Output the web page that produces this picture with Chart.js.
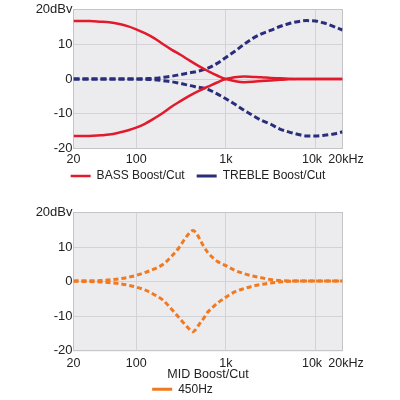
<!DOCTYPE html>
<html>
<head>
<meta charset="utf-8">
<script src="https://cdn.jsdelivr.net/npm/chart.js@4/dist/chart.umd.min.js"></script>
<style>
  html, body { margin: 0; padding: 0; background: #ffffff; overflow: hidden; width: 400px; height: 400px; }
  #c1 { position: absolute; left: 0; top: 0; }
  #c2 { position: absolute; left: 0; top: 200px; }
</style>
</head>
<body>
<canvas id="c1" width="400" height="200"></canvas>
<canvas id="c2" width="400" height="210"></canvas>
<script>
// ---- Data ----
const xTickValues = [20, 100, 1000, 10000, 20000];
const xTickLabels = ['20', '100', '1k', '10k  ', '  20kHz'];
const yTickValues = [-20, -10, 0, 10, 20];
const yTickLabels = ['-20', '-10', '0', '10', '20dBv'];

const freqTop = [20, 30, 40, 50, 65, 80, 100, 125, 160, 200, 250, 315, 400, 500, 630, 800, 1000, 1250, 1600, 2000, 2500, 3150, 4000, 5000, 6300, 8000, 10000, 12500, 16000, 20000];
const bassBoost = [16.7, 16.7, 16.5, 16.3, 15.8, 15.2, 14.3, 13.2, 11.7, 10.0, 8.4, 6.9, 5.2, 3.7, 2.3, 1.0, 0.1, 0.5, 0.7, 0.6, 0.5, 0.3, 0.2, 0.1, 0, 0, 0, 0, 0, 0];
const bassCut = [-16.4, -16.4, -16.2, -16.0, -15.4, -14.8, -14.0, -12.9, -11.3, -9.7, -7.9, -6.3, -4.7, -3.4, -2.2, -1.0, -0.1, -0.6, -0.9, -0.8, -0.6, -0.4, -0.2, -0.1, 0, 0, 0, 0, 0, 0];
const trebleBoost = [0, 0, 0, 0, 0, 0, 0, 0.1, 0.2, 0.5, 0.8, 1.3, 1.8, 2.3, 3.1, 4.5, 6.2, 7.9, 10.0, 11.7, 13.0, 14.0, 15.1, 15.9, 16.5, 16.8, 16.7, 16.1, 15.1, 14.1];
const trebleCut = [0, 0, 0, 0, 0, 0, 0, -0.1, -0.2, -0.5, -0.8, -1.3, -1.9, -2.4, -3.0, -4.3, -5.7, -7.2, -9.0, -10.5, -11.9, -13.0, -14.4, -15.2, -15.9, -16.4, -16.4, -16.2, -15.8, -15.2];

const freqMid = [20, 40, 60, 80, 100, 125, 160, 200, 250, 300, 350, 400, 430, 460, 500, 560, 630, 710, 800, 1000, 1250, 1600, 2000, 2500, 3150, 4000, 5000, 10000, 20000];
const midBoost = [0.2, 0.3, 0.7, 1.2, 1.8, 2.6, 3.7, 5.0, 7.4, 9.8, 12.4, 14.3, 14.8, 14.3, 12.8, 10.4, 8.4, 7.0, 5.9, 4.6, 3.3, 2.3, 1.6, 1.1, 0.6, 0.3, 0.2, 0.2, 0.2];
const midCut = [0.1, -0.1, -0.5, -1.0, -1.6, -2.4, -3.8, -5.4, -8.1, -10.4, -12.4, -14.0, -14.5, -13.9, -12.5, -10.8, -8.8, -7.5, -6.3, -4.5, -3.0, -2.0, -1.3, -0.8, -0.4, -0.1, 0.1, 0.2, 0.2];

const legendTop = ['BASS Boost/Cut', 'TREBLE Boost/Cut'];
const midTitle = 'MID Boost/Cut';
const legendMid = ['450Hz'];

// ---- Styling ----
const FONT = 'Liberation Sans, Arial, Helvetica, sans-serif';
const RED = '#e11b2c';
const NAVY = '#2a2d7c';
const ORANGE = '#f07a22';
const TXT = '#222222';

const pts = (xs, ys) => xs.map((x, i) => ({ x: x, y: ys[i] }));

const plotBg = {
  id: 'plotBg',
  beforeDraw(chart) {
    const a = chart.chartArea, ctx = chart.ctx;
    ctx.save();
    ctx.fillStyle = '#ececef';
    ctx.fillRect(a.left, a.top, a.right - a.left, a.bottom - a.top);
    ctx.restore();
  },
  beforeDatasetsDraw(chart) {
    const a = chart.chartArea, ctx = chart.ctx;
    ctx.save();
    ctx.strokeStyle = '#c4c4c8';
    ctx.lineWidth = 1;
    ctx.strokeRect(a.left, a.top, a.right - a.left, a.bottom - a.top);
    ctx.restore();
  }
};

function makeScales(xHeight, rightWidth, title, xPad) {
  return {
    x: {
      type: 'logarithmic',
      min: 20, max: 20000,
      afterBuildTicks: s => { s.ticks = xTickValues.map(v => ({ value: v })); },
      afterFit: s => { s.height = xHeight; s._computeLabelArea = () => undefined; },
      grid: { color: '#d3d3d7', lineWidth: 1, drawTicks: false },
      border: { display: false },
      ticks: {
        autoSkip: false, maxRotation: 0, padding: xPad,
        color: TXT, font: { family: FONT, size: 12.5 },
        callback: v => { const i = xTickValues.indexOf(v); return i >= 0 ? xTickLabels[i] : ''; }
      },
      title: title ? { display: true, text: title, color: TXT, padding: 0, font: { family: FONT, size: 12.5 } } : { display: false }
    },
    y: {
      type: 'linear',
      min: -20, max: 20,
      afterBuildTicks: s => { s.ticks = yTickValues.map(v => ({ value: v })); },
      afterFit: s => { s.width = 73.5; },
      grid: { color: '#d3d3d7', lineWidth: 1, drawTicks: false },
      border: { display: false },
      ticks: {
        padding: 1, color: TXT, font: { family: FONT, size: 13 },
        callback: v => { const i = yTickValues.indexOf(v); return i >= 0 ? yTickLabels[i] : ''; }
      }
    },
    yPad: {
      type: 'linear', position: 'right', display: true,
      afterFit: s => { s.width = rightWidth; },
      grid: { display: false, drawTicks: false },
      border: { display: false },
      ticks: { display: false }
    }
  };
}

function lineDs(label, data, color, dash, width) {
  return {
    label: label, data: data, borderColor: color, backgroundColor: color,
    borderWidth: width, borderDash: dash, pointRadius: 0, fill: false,
    cubicInterpolationMode: 'monotone', xAxisID: 'x', yAxisID: 'y'
  };
}

Chart.defaults.font.family = FONT;

new Chart(document.getElementById('c1'), {
  type: 'line',
  data: {
    datasets: [
      lineDs(legendTop[0], pts(freqTop, bassBoost), RED, [], 2.5),
      lineDs(legendTop[0], pts(freqTop, bassCut), RED, [], 2.5),
      lineDs(legendTop[1], pts(freqTop, trebleBoost), NAVY, [6, 3], 3),
      lineDs(legendTop[1], pts(freqTop, trebleCut), NAVY, [6, 3], 3)
    ]
  },
  options: {
    responsive: false, animation: false,
    layout: { padding: { left: 0, right: 4, top: 9.5, bottom: 8 } },
    scales: makeScales(9.5, 53.5, null, 4),
    plugins: {
      tooltip: { enabled: false },
      legend: {
        position: 'bottom',
        labels: {
          usePointStyle: true, pointStyle: 'line', pointStyleWidth: 20,
          padding: 12, color: TXT, font: { family: FONT, size: 12 },
          filter: item => item.datasetIndex === 0 || item.datasetIndex === 2
        }
      }
    }
  },
  plugins: [plotBg]
});

new Chart(document.getElementById('c2'), {
  type: 'line',
  data: {
    datasets: [
      lineDs(legendMid[0], pts(freqMid, midBoost), ORANGE, [5, 3], 3),
      lineDs(legendMid[0], pts(freqMid, midCut), ORANGE, [5, 3], 3)
    ]
  },
  options: {
    responsive: false, animation: false,
    layout: { padding: { left: 0, right: 35, top: 12.5, bottom: 4.8 } },
    scales: makeScales(31.5, 22.5, midTitle, 5),
    plugins: {
      tooltip: { enabled: false },
      legend: {
        position: 'bottom',
        labels: {
          usePointStyle: true, pointStyle: 'line', pointStyleWidth: 20,
          padding: 1, color: TXT, font: { family: FONT, size: 12 },
          filter: item => item.datasetIndex === 0
        }
      }
    }
  },
  plugins: [plotBg]
});
</script>
</body>
</html>
